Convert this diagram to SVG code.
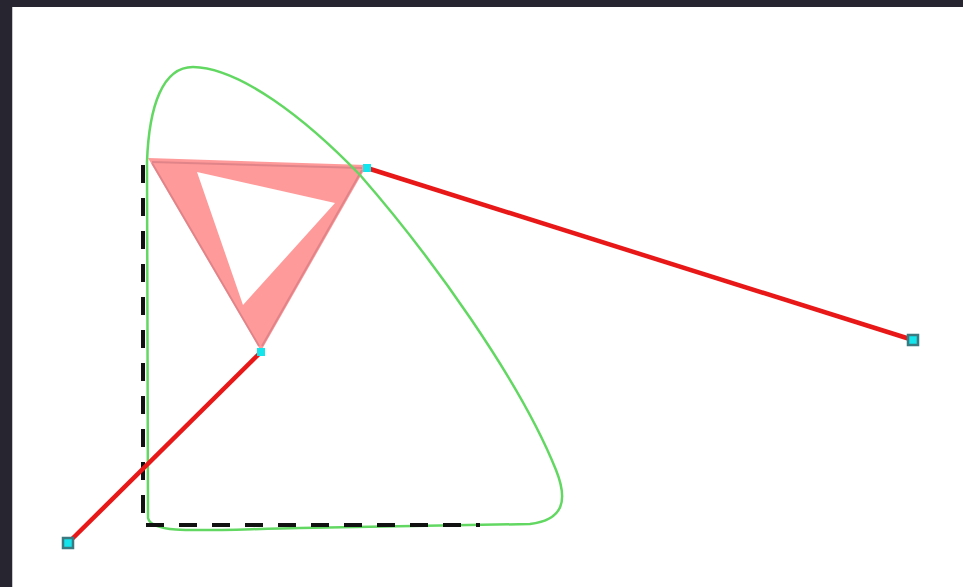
<svg xmlns="http://www.w3.org/2000/svg" width="963" height="587" viewBox="0 0 963 587">
<style>
.red{stroke:#e81818;stroke-width:4.5;fill:none;stroke-linecap:butt}
.dash{stroke:#111;stroke-width:4;fill:none;stroke-dasharray:18 15}
.curve{stroke:#62d862;stroke-width:2.5;fill:none}
.ctrl{fill:#14e4ec}
.end{fill:#14e4ec;stroke:#3a7a80;stroke-width:2.5}
.edge{stroke:#d47a82;stroke-width:2;fill:none;opacity:0.7}
</style>
<rect x="0" y="0" width="963" height="587" fill="#262530"/>
<rect x="12" y="7" width="951" height="580" fill="#ffffff"/>
<line x1="12.5" y1="7" x2="12.5" y2="587" stroke="#c8c8cc" stroke-width="1"/>
<g id="hull">
<path d="M148,158 L367,165 L261,351 Z M197,172 L243,305 L335,203 Z" fill="#ff9a9a" fill-rule="evenodd"/>
<path class="edge" d="M152,162 L362,168 M152,163 L259,346 M362,170 L262,346"/>
</g>
<g id="connectors">
<path class="curve" d="M147,162 C149,105 163,67 193,67 C240,68 305,118 360,175 C430,255 520,380 556,470 C568,500 564,520 530,524 L300,528 C200,530 152,535 148,518 L147,162"/>
<path class="dash" d="M143,165 L143,525 L480,525"/>
<line class="red" x1="68" y1="543" x2="261" y2="352"/>
<line class="red" x1="367" y1="168" x2="913" y2="340"/>
</g>
<g id="p0"><rect class="end" x="63" y="538" width="10" height="10"/></g>
<g id="p1"><rect class="ctrl" x="257" y="348" width="8" height="8"/></g>
<g id="p2"><rect class="ctrl" x="363" y="164" width="8" height="8"/></g>
<g id="p3"><rect class="end" x="908" y="335" width="10" height="10"/></g>
</svg>
